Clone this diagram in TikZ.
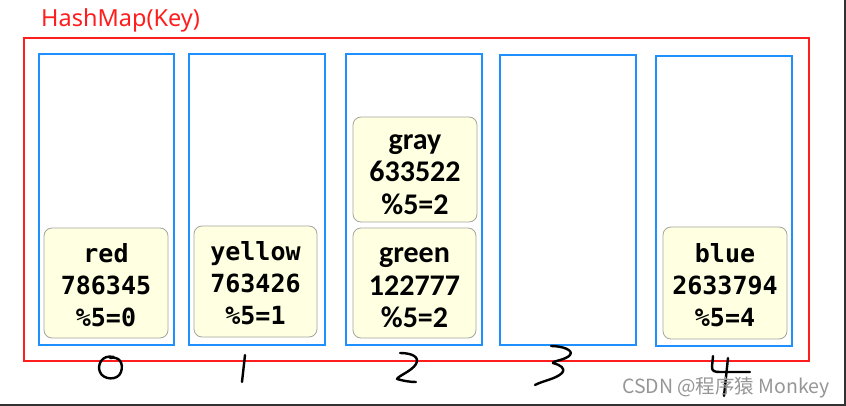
\documentclass[tikz,border=0pt]{standalone}
\usepackage{fontspec}
\newfontfamily\titlefont{Noto Sans}
\newfontfamily\monofont{DejaVu Sans Mono}
\newfontfamily\cardsans{Carlito}
\newfontfamily\cjkfont{Noto Sans CJK SC}
\definecolor{boxblue}{RGB}{30,144,255}
\definecolor{framered}{RGB}{255,30,30}
\definecolor{cardfill}{RGB}{255,255,225}
\definecolor{cardline}{RGB}{165,165,160}
\definecolor{wmgray}{RGB}{150,150,150}
\definecolor{edgegray}{RGB}{50,50,50}
\begin{document}
\begin{tikzpicture}[x=1pt,y=-1pt,
 bucket/.style={draw=boxblue,line width=2.5pt,minimum width=135pt,minimum height=291pt,inner sep=0pt},
 card/.style={draw=cardline,fill=cardfill,line width=0.8pt,rounded corners=8pt,minimum width=124pt,minimum height=110pt,inner sep=0pt},
 monotext/.style={inner sep=0pt,align=center,font=\fontsize{25}{32}\selectfont\monofont\bfseries},
 sanstext/.style={inner sep=0pt,align=center,font=\fontsize{30}{32.5}\selectfont\cardsans\bfseries},
 hand/.style={draw=black,line width=2.4pt,line cap=round,line join=round}]
\useasboundingbox (0,0) rectangle (846,406);
\fill[white] (0,0) rectangle (846,406);
% outer frame
\node[draw=framered,line width=2.5pt,minimum width=785pt,minimum height=323pt,inner sep=0pt] (frame) at (416.5,199.5) {};
\node[anchor=base west,text=framered,font=\fontsize{23.5}{26}\selectfont\titlefont,inner sep=0pt] (title) at (41,27) {HashMap(Key)};
% buckets
\node[bucket] (b0) at (106.5,199.5) {};
\node[bucket,minimum width=136pt] (b1) at (257,199.5) {};
\node[bucket,minimum width=136pt] (b2) at (414,199.5) {};
\node[bucket,minimum width=136pt,minimum height=290pt] (b3) at (568,200) {};
\node[bucket,minimum width=136pt,minimum height=290pt] (b4) at (724,201) {};
% cards
\node[card] (c0) at (106,283) {};
\node[card,minimum width=123pt,minimum height=111pt] (c1) at (255.5,281.5) {};
\node[card,minimum height=105pt] (cg) at (415,169.5) {};
\node[card,minimum width=123pt] (cgr) at (414.5,283) {};
\node[card,minimum height=112pt] (c4) at (725,283) {};
% card texts
\node[monotext] (t0) at ([yshift=-2.5pt]c0.center) {red\\786345\\\%5=0};
\node[monotext] (t1) at ([yshift=-1.5pt]c1.center) {yellow\\763426\\\%5=1};
\node[sanstext] (tg) at ([yshift=-5pt]cg.center) {gray\\633522\\\%5=2};
\node[sanstext] (tgr) at ([yshift=-5pt]cgr.center) {green\\122777\\\%5=2};
\node[monotext] (t4) at ([yshift=-2.5pt]c4.center) {blue\\2633794\\\%5=4};
% handwritten indices
\draw[hand] (114,357) .. controls (101,354) and (97,366) .. (100,372) .. controls (103,380) and (118,381) .. (121,372) .. controls (124,363) and (119,356) .. (110,358);
\draw[hand] (245,355) -- (242,382);
\draw[hand] (400,353) .. controls (412,353) and (420,357) .. (416,364) .. controls (412,371) and (398,376) .. (397,379) .. controls (404,381) and (410,382) .. (416,382);
\draw[hand] (551,346) .. controls (562,346) and (574,350) .. (570,355) .. controls (566,360) and (552,361) .. (553,363) .. controls (560,365) and (566,368) .. (562,373) .. controls (556,379) and (542,381) .. (535,385);
\draw[hand] (713,356) -- (712,367) .. controls (712,371) and (714,372) .. (720,372) -- (750,372);
\draw[hand] (728,358) -- (724,396);
% watermark
\node[anchor=base east,text=wmgray,font=\fontsize{19.5}{22}\selectfont\cjkfont,inner sep=0pt] (wm) at (830,393) {CSDN @程序猿 Monkey};
% screenshot edges
\fill[edgegray] (843.5,0) rectangle (846,406);
\fill[edgegray] (0,403.5) rectangle (846,406);
\end{tikzpicture}
\end{document}
